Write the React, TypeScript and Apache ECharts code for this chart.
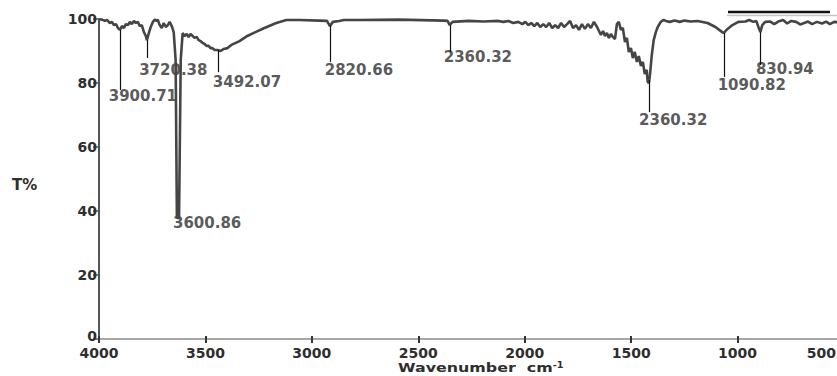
import React, { useEffect, useRef } from "react";
import * as echarts from "echarts";

const wavenumbers = [
  3998, 3986, 3972, 3963, 3949, 3939, 3930, 3920, 3911, 3902, 3892, 3883, 3874, 3864, 3855, 3846, 3836, 3827,
  3818, 3808, 3799, 3789, 3780, 3775, 3766, 3757, 3747, 3738, 3729, 3724, 3715, 3705, 3696, 3686, 3677, 3668,
  3658, 3649, 3640, 3634, 3624, 3616, 3607, 3598, 3588, 3579, 3570, 3560, 3551, 3541, 3532, 3523, 3513, 3504,
  3495, 3485, 3476, 3467, 3457, 3443, 3429, 3415, 3396, 3378, 3340, 3303, 3265, 3223, 3167, 3120, 3060, 2966,
  2929, 2915, 2901, 2872, 2849, 2779, 2592, 2381, 2362, 2353, 2339, 2264, 2194, 2124, 2100, 2077, 2054, 2030,
  2011, 1997, 1983, 1969, 1955, 1941, 1927, 1913, 1899, 1885, 1871, 1857, 1843, 1829, 1815, 1801, 1787, 1773,
  1759, 1745, 1731, 1717, 1703, 1689, 1675, 1660, 1651, 1642, 1632, 1623, 1614, 1604, 1595, 1586, 1576, 1567,
  1558, 1548, 1539, 1529, 1520, 1511, 1501, 1492, 1483, 1473, 1464, 1454, 1445, 1436, 1427, 1422, 1417, 1412,
  1403, 1394, 1384, 1375, 1361, 1347, 1337, 1319, 1295, 1272, 1249, 1221, 1188, 1141, 1104, 1080, 1066, 1047,
  1024, 996, 963, 945, 926, 912, 902, 893, 884, 870, 846, 828, 809, 786, 767, 748, 725, 706, 687, 669, 650, 627,
  603, 584, 566, 547, 510,
];
const transmittance = [
  99.9, 99.8, 99.4, 99.7, 98.75, 99.1, 98.1, 98.4, 97.2, 96.6, 97.8, 97.2, 98.4, 98.1, 99.1, 98.4, 99.4, 98.75,
  99.1, 97.8, 98.1, 95.9, 94.7, 93.4, 95.6, 97.5, 99.1, 99.8, 99.4, 99.8, 98.1, 97.2, 98.75, 97.5, 98.1, 99.1,
  97.8, 95.9, 87.2, 37.8, 37.8, 87.2, 95.6, 94.7, 95.3, 94.4, 95.3, 94.7, 94.1, 94.4, 93.4, 93.1, 92.5, 92.2,
  91.6, 91.6, 90.9, 90.9, 90.3, 90.3, 90, 90.6, 90.9, 91.9, 93.1, 94.7, 95.9, 97.2, 98.75, 99.7, 99.7, 99.5,
  99.4, 97.8, 99.1, 99.4, 99.7, 99.7, 99.8, 99.5, 99.4, 98.1, 99.1, 99.4, 99.2, 99.4, 99.1, 99.4, 98.75, 99.1,
  98.4, 99.1, 98.1, 98.75, 97.8, 98.75, 97.5, 98.4, 97.5, 98.75, 97.2, 98.1, 97.2, 98.75, 97.5, 98.4, 99.4, 97.2,
  98.1, 96.6, 98.4, 96.9, 98.4, 97.2, 99.1, 97.5, 96.25, 95, 96.25, 94.7, 95.6, 94.1, 95.3, 94.4, 93.75, 98.4,
  99.1, 96.6, 97.2, 92.8, 94.1, 89.7, 90.9, 87.8, 89.7, 86.6, 88.4, 85.3, 86.6, 82.8, 84.1, 80.3, 80, 82.2,
  88.75, 93.4, 95.9, 97.5, 99.1, 99.7, 99.4, 99.1, 99.5, 99.1, 99.5, 99.2, 99.4, 98.75, 97.5, 96.3, 95.6, 96.9,
  98.1, 99.1, 99.2, 99.7, 99.1, 99.4, 97.5, 95.9, 98.1, 99.1, 99.2, 98.4, 99.2, 99.7, 98.6, 99.4, 99.1, 98.3, 98.75, 99.2, 98.4, 99.1,
  98.6, 99.2, 98.4, 99.1, 98.9,
];

// peak annotations
const peakLabels = ["3900.71", "3720.38", "3492.07", "2820.66", "2360.32", "2360.32", "1090.82", "830.94"];
const peakWn = [3902, 3775, 3439, 2914.5, 2348, 1417, 1061.6, 893];
const peakTop = [96.6, 93.4, 90.3, 98.1, 98.1, 80.9, 95.6, 95.9];
const peakBottom = [77.8, 87.8, 83.4, 86.6, 89.7, 70.9, 81.9, 85.6];
const labelWn = [3794, 3651, 3305, 2779, 2220, 1302.5, 933, 778];
const labelT = [75.9, 84.1, 80.3, 84.1, 88.1, 68.4, 79.3, 84.4];
const deepLabel = "3600.86";
const deepLabelPos = [3492, 36.25];

const xTicks = { min: 500, max: 4000, interval: 500 };
const yTicks = { min: 0, max: 100, interval: 20 };

const FONT = "DejaVu Sans";
const TEXT = "#2e2e2e";

export default function App() {
  const ref = useRef<HTMLDivElement>(null);
  useEffect(() => {
    if (!ref.current) return;
    const chart = echarts.init(ref.current, undefined, { renderer: "svg" });
    const lineData = wavenumbers.map((w, i) => [w, transmittance[i]]);
    const labelData = peakLabels.map((l, i) => ({ name: l, value: [labelWn[i], labelT[i]] }));
    labelData.push({ name: deepLabel, value: deepLabelPos });
    const markData = peakWn.map((w, i) => [
      { coord: [w, peakTop[i]] },
      { coord: [w, peakBottom[i]] },
    ]);
    const tick = { fontFamily: FONT, fontWeight: "bold" as const, fontSize: 14, color: TEXT, lineHeight: 13 };
    const ann = { fontFamily: FONT, fontWeight: "bold" as const, fontSize: 15, color: TEXT, lineHeight: 12 };
    chart.setOption({
      animation: false,
      backgroundColor: "#ffffff",
      grid: { left: 99, right: 0, top: 19, bottom: 37, containLabel: false },
      xAxis: [
        {
          type: "value",
          min: xTicks.min,
          max: xTicks.max,
          interval: xTicks.interval,
          inverse: true,
          position: "bottom",
          axisLine: { show: true, lineStyle: { color: "#8a8a8a", width: 1.5 } },
          axisTick: { show: true, length: 4, lineStyle: { color: "#333", width: 2 } },
          axisLabel: {
            ...tick,
            margin: 7,
            alignMinLabel: "right",
            formatter: (v: number) => (v === xTicks.min ? `{last|${v}}` : String(v)),
            rich: { last: { ...tick, padding: [0, 8, 0, 0] } },
          },
          splitLine: { show: false },
        },
        {
          type: "value",
          min: xTicks.min,
          max: xTicks.max,
          interval: xTicks.interval,
          inverse: true,
          position: "bottom",
          axisLine: { show: false },
          axisTick: { show: true, inside: true, length: 3, lineStyle: { color: "#333", width: 2 } },
          axisLabel: { show: false },
          splitLine: { show: false },
        },
      ],
      yAxis: {
        type: "value",
        min: yTicks.min,
        max: yTicks.max,
        interval: yTicks.interval,
        axisLine: { show: true, lineStyle: { color: "#555", width: 2 } },
        axisTick: { show: true, length: 6, lineStyle: { color: "#555", width: 1.5 } },
        axisLabel: {
          ...tick,
          margin: 2,
          formatter: (v: number) => (v === yTicks.min ? `{zero|${v}}` : String(v)),
          rich: { zero: { ...tick, padding: [0, 0, 7, 0] } },
        },
        splitLine: { show: false },
      },
      graphic: [
        { type: "text", left: 12, top: 177, style: { text: "T%", font: `bold 15px '${FONT}'`, fill: TEXT } },
        {
          type: "text",
          x: 398,
          y: 368,
          scaleX: 1.22,
          style: {
            text: "Wavenumber  cm{sup|-1}",
            x: 0,
            y: 0,
            align: "left",
            verticalAlign: "middle",
            font: `bold 13px '${FONT}'`,
            fill: TEXT,
            lineHeight: 13,
            rich: { sup: { fontSize: 8, fontWeight: "bold", fontFamily: FONT, fill: TEXT, verticalAlign: "top", lineHeight: 8, padding: [0, 0, 5, 0] } },
          },
        },
        { type: "line", shape: { x1: 728, y1: 12, x2: 830, y2: 12 }, style: { stroke: "#111", lineWidth: 2.5 } },
        { type: "line", shape: { x1: 727, y1: 15.5, x2: 837, y2: 15.5 }, style: { stroke: "#c4c4c4", lineWidth: 1.5 } },
      ],
      series: [
        {
          type: "scatter",
          xAxisIndex: 0,
          symbolSize: 1,
          itemStyle: { color: "rgba(0,0,0,0)" },
          z: 1,
          silent: true,
          label: { show: true, position: "inside", formatter: "{b}", ...ann },
          data: labelData,
          markLine: {
            silent: true,
            symbol: ["none", "none"],
            label: { show: false },
            lineStyle: { color: "#111", width: 1.2, type: "solid" },
            data: markData,
          },
        },
        {
          type: "line",
          xAxisIndex: 0,
          data: lineData,
          showSymbol: false,
          z: 3,
          lineStyle: { color: "#454545", width: 2.6 },
        },
      ],
    });
    return () => chart.dispose();
  }, []);
  return (
    <div style={{ position: "absolute", left: 0, top: 0, width: 837, height: 376, overflow: "hidden" }}>
      <div ref={ref} style={{ width: 847, height: 376 }} />
    </div>
  );
}
